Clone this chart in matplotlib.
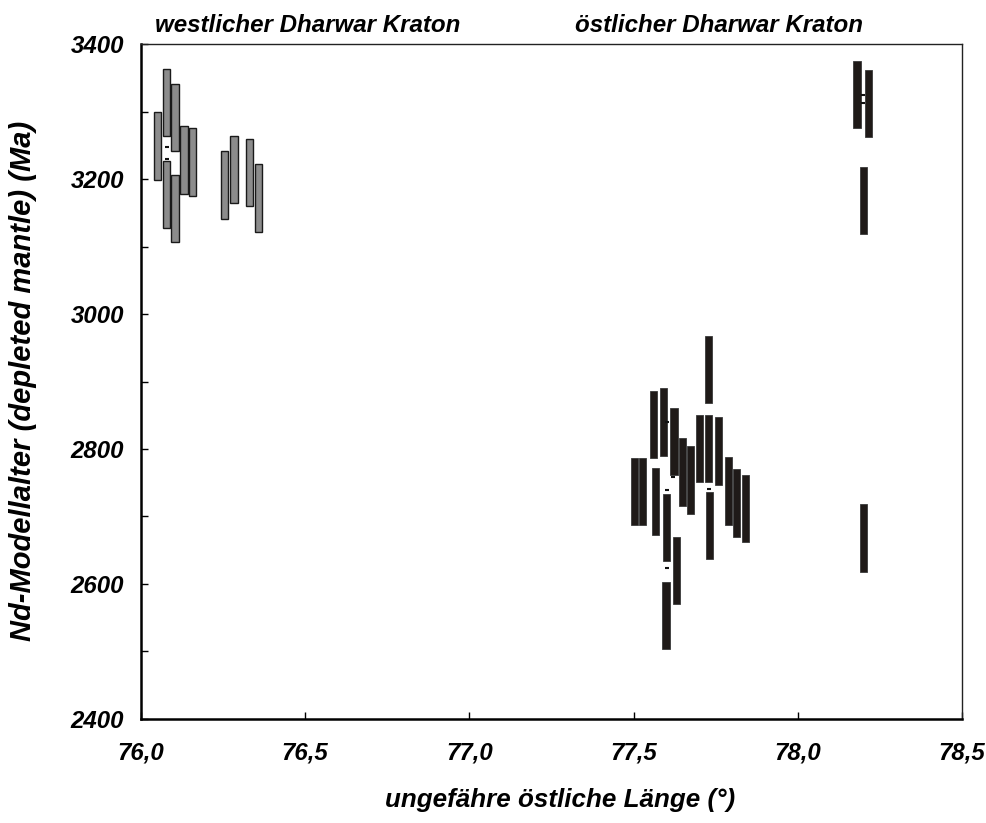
import matplotlib
matplotlib.use("Agg")
import matplotlib.pyplot as plt
from matplotlib.ticker import MultipleLocator, FixedLocator, FuncFormatter

# Western Dharwar craton: longitude (deg E) and Nd model age (Ma), with ±uncertainty
west_lon = [76.050, 76.079, 76.079, 76.104, 76.104, 76.132, 76.158, 76.256, 76.284, 76.331, 76.359]
west_age = [3249, 3313, 3177, 3291, 3156, 3228, 3225, 3191, 3214, 3210, 3172]
west_err = [50, 50, 50, 50, 50, 50, 50, 50, 50, 50, 50]

# Eastern Dharwar craton
east_lon = [78.180, 78.216, 78.199, 78.199,
            77.503, 77.528, 77.562, 77.567, 77.591, 77.623, 77.600, 77.599,
            77.632, 77.649, 77.673, 77.700, 77.729, 77.729, 77.731, 77.758,
            77.788, 77.814, 77.840]
east_age = [3325, 3312, 3168, 2668,
            2737, 2737, 2836, 2722, 2840, 2811, 2684, 2553,
            2620, 2766, 2754, 2801, 2918, 2801, 2687, 2797,
            2738, 2720, 2712]
east_err = [50] * len(east_age)

# Single-point markers without a visible uncertainty box
west_pts_lon = [76.079, 76.079]
west_pts_age = [3248, 3229]
east_pts_lon = [77.603, 77.621, 77.603, 77.603, 77.731, 78.198, 78.198]
east_pts_age = [2840, 2759, 2739, 2624, 2741, 3325, 3313]

x_ticks = [76.0, 76.5, 77.0, 77.5, 78.0, 78.5]
y_labeled = [2400, 2600, 2800, 3000, 3200, 3400]

FONT = ["Liberation Sans", "DejaVu Sans"]
plt.rcParams["font.family"] = FONT

fig = plt.figure(figsize=(9.87, 8.23), dpi=100)
ax = fig.add_axes([0.1426, 0.1264, 0.8321, 0.8201])

BAR_W = 0.022
ax.bar(west_lon, [2 * e for e in west_err],
       bottom=[a - e for a, e in zip(west_age, west_err)],
       width=BAR_W, color="#8c8c8c", edgecolor="#1a1a1a", linewidth=1.0, zorder=3)
ax.bar(east_lon, [2 * e for e in east_err],
       bottom=[a - e for a, e in zip(east_age, east_err)],
       width=BAR_W, color="#1f1a18", edgecolor="#3a3a3a", linewidth=0.6, zorder=3)

ax.plot(west_pts_lon, west_pts_age, linestyle="none", marker="_",
        markersize=2.5, markeredgewidth=1.5, color="#111111", zorder=4)
ax.plot(east_pts_lon, east_pts_age, linestyle="none", marker="_",
        markersize=2.5, markeredgewidth=1.5, color="#111111", zorder=4)

ax.set_xlim(76.0, 78.5)
ax.set_ylim(2400, 3400)

ax.xaxis.set_major_locator(FixedLocator(x_ticks))
ax.xaxis.set_major_formatter(FuncFormatter(lambda v, p: f"{v:.1f}".replace(".", ",")))
ax.yaxis.set_major_locator(FixedLocator(y_labeled))
ax.yaxis.set_minor_locator(MultipleLocator(100))

ax.tick_params(axis="both", which="both", direction="in", length=5, width=1.0,
               top=False, right=False)
ax.tick_params(axis="x", pad=16)
ax.tick_params(axis="y", pad=12)
for lab in ax.get_xticklabels() + ax.get_yticklabels():
    lab.set_fontsize(17.3)
    lab.set_fontweight("bold")
    lab.set_fontstyle("italic")

for side in ("left", "bottom"):
    ax.spines[side].set_linewidth(1.8)
for side in ("top", "right"):
    ax.spines[side].set_linewidth(1.0)
    ax.spines[side].set_color("#222222")

title_kw = dict(fontsize=17.4, fontweight="bold", fontstyle="italic", va="baseline")
fig.text(155 / 987, 1 - 31.5 / 823, "westlicher Dharwar Kraton", ha="left", **title_kw)
fig.text(575 / 987, 1 - 31.5 / 823, "östlicher Dharwar Kraton", ha="left", **title_kw)

fig.text(23 / 987, 0.537, "Nd-Modellalter (depleted mantle) (Ma)", rotation=90,
         ha="center", va="center", fontsize=21, fontweight="bold", fontstyle="italic")
fig.text(560 / 987, 1 - 800 / 823, "ungefähre östliche Länge (°)",
         ha="center", va="center", fontsize=18.7, fontweight="bold", fontstyle="italic")

fig.savefig("out.png", dpi=100)
